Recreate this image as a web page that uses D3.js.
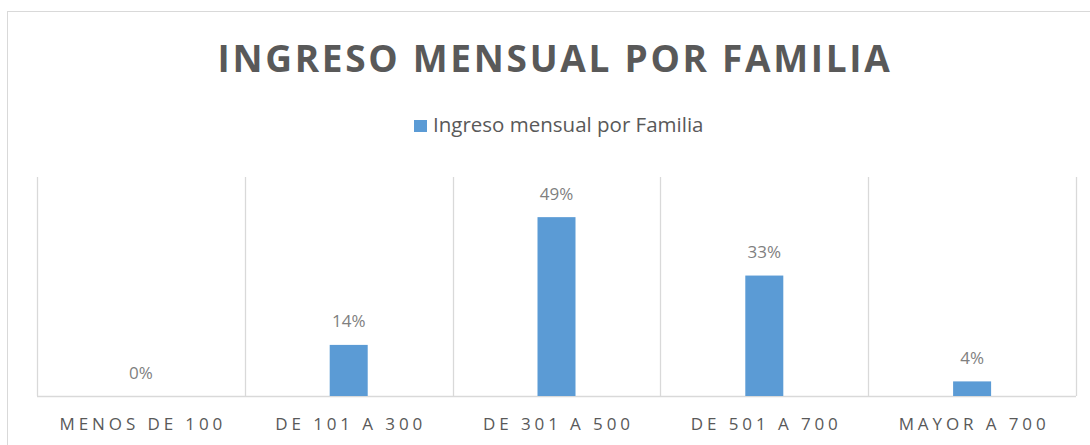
<!DOCTYPE html>
<html>
  <head>
    <meta charset="utf-8" />
    <title>Ingreso mensual por familia</title>
    <style>
      html, body {
        margin: 0;
        padding: 0;
        background-color: white;
      }
      svg text {
        font-family: "Open Sans", "Liberation Sans", sans-serif;
      }
    </style>
  </head>
  <body>
    <script src="https://d3js.org/d3.v7.min.js"></script>
    <script>
      var w = 1090;
      var h = 445;

      // data
      var categories = ["MENOS DE 100", "DE 101 A 300", "DE 301 A 500", "DE 501 A 700", "MAYOR A 700"];
      var values = [0, 0.14, 0.49, 0.33, 0.04];
      var seriesName = "Ingreso mensual por Familia";
      var title = "INGRESO MENSUAL POR FAMILIA";

      var plotLeft = 37, plotRight = 1076, plotTop = 177, plotBottom = 396;

      var svg = d3.select("body")
        .append("svg")
        .attr("width", w)
        .attr("height", h);

      // chart frame
      svg.append("rect")
        .attr("x", 7.5)
        .attr("y", 11.5)
        .attr("width", 1100)
        .attr("height", 460)
        .attr("fill", "white")
        .attr("stroke", "#d9d9d9");

      var x = d3.scaleBand()
        .domain(categories)
        .range([plotLeft, plotRight])
        .paddingInner(0)
        .paddingOuter(0);

      var y = d3.scaleLinear()
        .domain([0, 0.6])
        .range([plotBottom, plotTop]);

      // vertical gridlines between categories
      var edges = [plotLeft].concat(categories.map(function(c) { return x(c) + x.bandwidth(); }));
      svg.selectAll(".vgrid")
        .data(edges)
        .enter()
        .append("line")
        .attr("class", "vgrid")
        .attr("x1", function(d) { return Math.round(d) + 0.5; })
        .attr("x2", function(d) { return Math.round(d) + 0.5; })
        .attr("y1", plotTop)
        .attr("y2", plotBottom)
        .attr("stroke", "#d9d9d9")
        .attr("stroke-width", 1.3);

      // baseline
      svg.append("line")
        .attr("x1", plotLeft)
        .attr("x2", plotRight)
        .attr("y1", plotBottom + 0.5)
        .attr("y2", plotBottom + 0.5)
        .attr("stroke", "#d9d9d9")
        .attr("stroke-width", 1.3);

      var barW = 38;

      svg.selectAll(".bar")
        .data(values)
        .enter()
        .append("rect")
        .attr("class", "bar")
        .attr("x", function(d, i) { return x(categories[i]) + x.bandwidth() / 2 - barW / 2; })
        .attr("y", function(d) { return y(d); })
        .attr("width", barW)
        .attr("height", function(d) { return plotBottom - y(d); })
        .attr("fill", "#5b9bd5");

      svg.selectAll(".lbl")
        .data(values)
        .enter()
        .append("text")
        .attr("class", "lbl")
        .attr("x", function(d, i) { return x(categories[i]) + x.bandwidth() / 2; })
        .attr("y", function(d) { return y(d) - 17.5; })
        .attr("text-anchor", "middle")
        .attr("fill", "#7f7f7f")
        .style("font-size", "17px")
        .text(function(d) { return Math.round(d * 100) + "%"; });

      // category axis labels
      svg.selectAll(".cat")
        .data(categories)
        .enter()
        .append("text")
        .attr("class", "cat")
        .attr("x", function(d) { return x(d) + x.bandwidth() / 2 + 2; })
        .attr("y", 430)
        .attr("text-anchor", "middle")
        .attr("fill", "#595959")
        .style("font-size", "17px")
        .style("letter-spacing", "3.9px")
        .text(function(d) { return d; });

      // title
      svg.append("text")
        .attr("x", 555)
        .attr("y", 72)
        .attr("text-anchor", "middle")
        .attr("fill", "#595959")
        .style("font-size", "37px")
        .style("font-weight", "bold")
        .style("letter-spacing", "2.7px")
        .text(title);

      // legend
      svg.append("rect")
        .attr("x", 414)
        .attr("y", 120)
        .attr("width", 13)
        .attr("height", 12)
        .attr("fill", "#5b9bd5");

      svg.append("text")
        .attr("x", 433)
        .attr("y", 132)
        .attr("fill", "#595959")
        .style("font-size", "20.5px")
        .text(seriesName);
    </script>
  </body>
</html>
